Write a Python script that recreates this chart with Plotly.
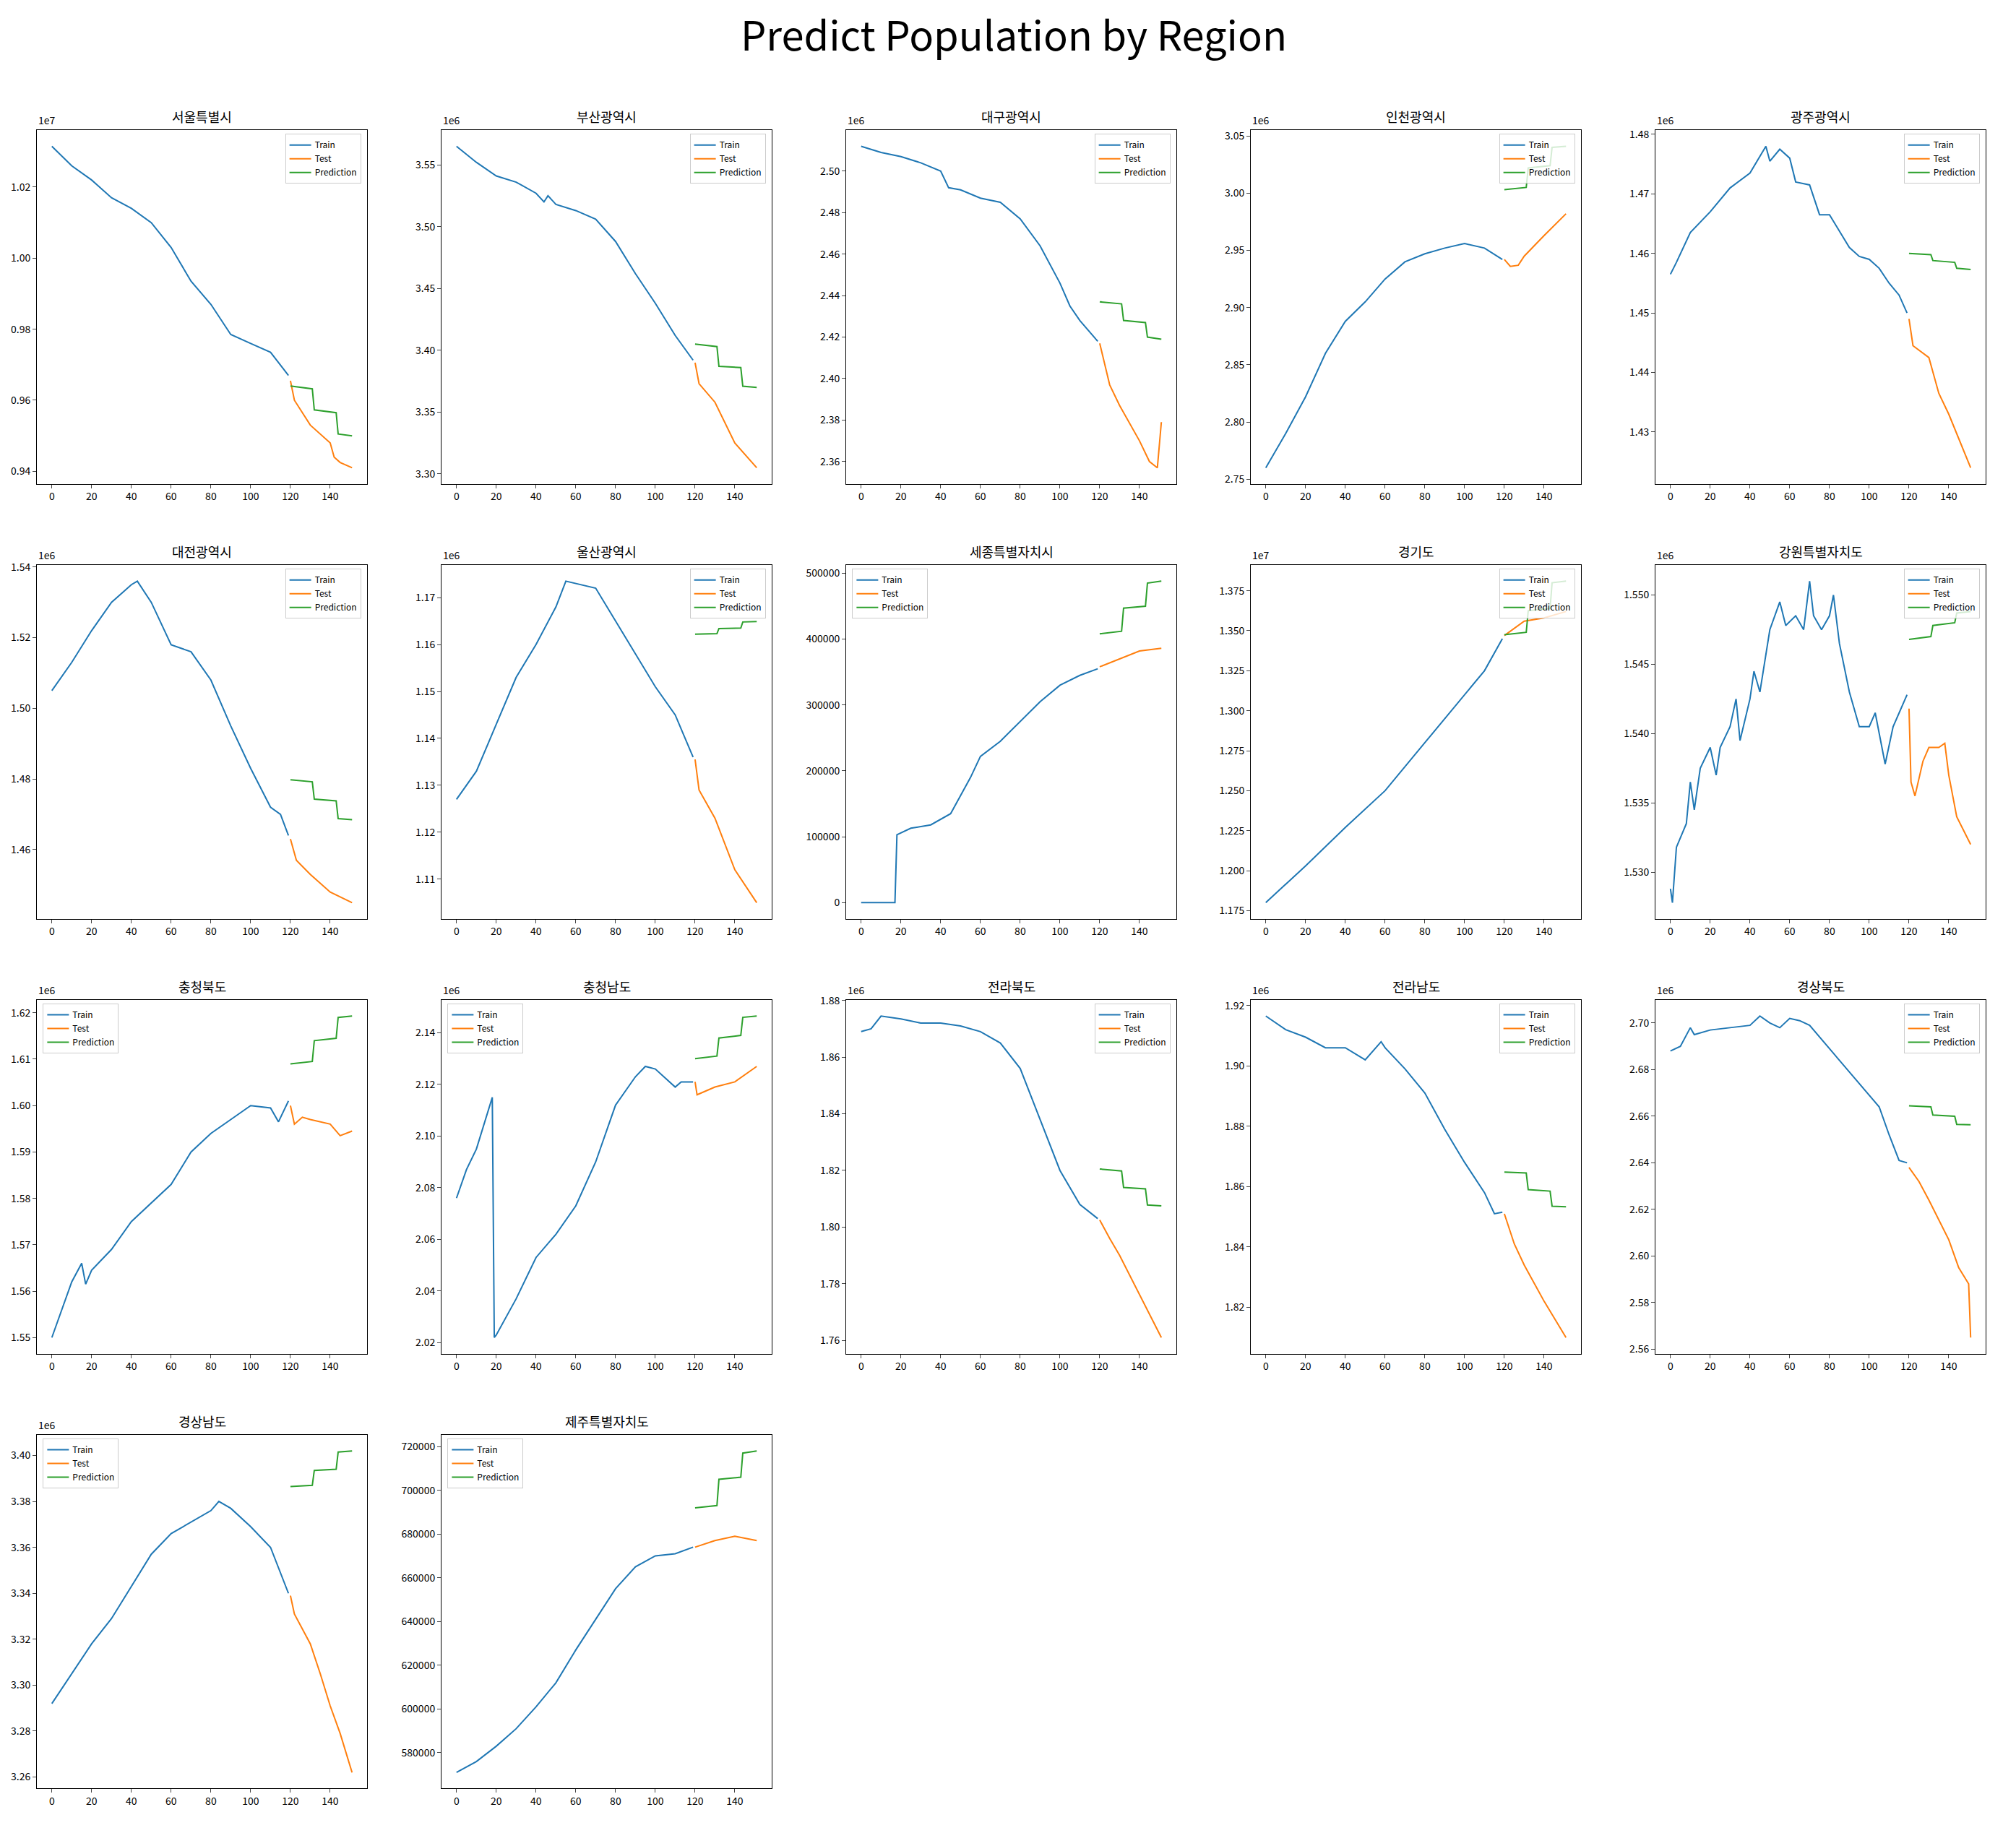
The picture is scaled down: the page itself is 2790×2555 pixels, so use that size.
import plotly.graph_objects as go

W, H = 2790, 2555

regions = ["서울특별시", "부산광역시", "대구광역시", "인천광역시", "광주광역시",
           "대전광역시", "울산광역시", "세종특별자치시", "경기도", "강원특별자치도",
           "충청북도", "충청남도", "전라북도", "전라남도", "경상북도",
           "경상남도", "제주특별자치도"]
scales = ["1e7", "1e6", "1e6", "1e6", "1e6", "1e6", "1e6", "", "1e7", "1e6",
          "1e6", "1e6", "1e6", "1e6", "1e6", "1e6", ""]
tick_fmt = [".2f", ".2f", ".2f", ".2f", ".2f", ".2f", ".2f", "d", ".3f", ".3f",
            ".2f", ".2f", ".2f", ".2f", ".2f", ".2f", "d"]
tick_step = [0.02, 0.05, 0.02, 0.05, 0.01, 0.02, 0.01, 100000, 0.025, 0.005,
             0.01, 0.02, 0.02, 0.02, 0.02, 0.02, 20000]
legend_left = [False, False, False, False, False, False, False, True, False, False,
               True, True, False, False, False, True, True]

train_x = [
    [0, 10, 20, 30, 40, 50, 60, 70, 80, 90, 100, 110, 119],
    [0, 10, 20, 30, 40, 44, 46, 50, 60, 70, 80, 90, 100, 110, 119],
    [0, 10, 20, 30, 40, 44, 50, 60, 70, 80, 90, 100, 105, 110, 119],
    [0, 10, 20, 30, 40, 50, 60, 70, 80, 90, 100, 110, 119],
    [0, 3, 10, 20, 30, 40, 48, 50, 55, 60, 63, 70, 75, 80, 90, 95, 100, 105, 110, 115, 119],
    [0, 10, 20, 30, 40, 43, 50, 60, 70, 80, 90, 100, 110, 115, 119],
    [0, 10, 20, 30, 40, 50, 55, 60, 70, 80, 90, 100, 110, 119],
    [0, 17, 18, 25, 35, 45, 55, 60, 70, 80, 90, 100, 110, 119],
    [0, 20, 40, 60, 80, 100, 110, 119],
    [0, 1, 3, 5, 8, 10, 12, 15, 20, 23, 25, 30, 33, 35, 40, 42, 45, 50, 55, 58, 63, 67,
     70, 72, 76, 80, 82, 85, 90, 95, 100, 103, 108, 112, 119],
    [0, 10, 15, 17, 20, 30, 40, 50, 60, 70, 80, 90, 100, 110, 114, 119],
    [0, 5, 10, 18, 19, 20, 30, 40, 50, 60, 70, 80, 90, 95, 100, 110, 113, 119],
    [0, 5, 10, 20, 30, 40, 50, 60, 70, 80, 90, 100, 110, 119],
    [0, 10, 20, 30, 40, 50, 58, 60, 70, 80, 90, 100, 110, 115, 119],
    [0, 5, 10, 12, 20, 30, 40, 45, 50, 55, 60, 65, 70, 80, 90, 100, 105, 110, 115, 119],
    [0, 10, 20, 30, 40, 50, 60, 70, 80, 84, 90, 100, 110, 119],
    [0, 10, 20, 30, 40, 50, 60, 70, 80, 90, 100, 110, 119],
]
train_y = [
    [1.0315, 1.026, 1.022, 1.017, 1.014, 1.010, 1.003, 0.9935, 0.987, 0.9785, 0.976, 0.9735, 0.967],
    [3.565, 3.552, 3.541, 3.536, 3.527, 3.520, 3.525, 3.518, 3.513, 3.506, 3.488, 3.462, 3.438, 3.412, 3.392],
    [2.512, 2.509, 2.507, 2.504, 2.500, 2.492, 2.491, 2.487, 2.485, 2.477, 2.464, 2.446, 2.435, 2.428, 2.418],
    [2.760, 2.790, 2.822, 2.860, 2.888, 2.905, 2.925, 2.940, 2.947, 2.952, 2.956, 2.952, 2.942],
    [1.4565, 1.4585, 1.4635, 1.467, 1.471, 1.4735, 1.478, 1.4755, 1.4775, 1.476, 1.472, 1.4715,
     1.4665, 1.4665, 1.461, 1.4595, 1.459, 1.4575, 1.455, 1.453, 1.450],
    [1.505, 1.513, 1.522, 1.530, 1.535, 1.536, 1.530, 1.518, 1.516, 1.508, 1.495, 1.483, 1.472, 1.470, 1.464],
    [1.127, 1.133, 1.143, 1.153, 1.160, 1.168, 1.1735, 1.173, 1.172, 1.165, 1.158, 1.151, 1.145, 1.136],
    [0, 0, 103000, 113000, 118000, 135000, 190000, 222000, 245000, 275000, 305000, 330000, 345000, 355000],
    [1.180, 1.203, 1.227, 1.250, 1.280, 1.310, 1.325, 1.345],
    [1.5288, 1.5278, 1.5318, 1.5325, 1.5335, 1.5365, 1.5345, 1.5375, 1.539, 1.537, 1.539, 1.5405,
     1.5425, 1.5395, 1.5425, 1.5445, 1.543, 1.5475, 1.5495, 1.5478, 1.5485, 1.5475, 1.551, 1.5485,
     1.5475, 1.5485, 1.550, 1.5465, 1.543, 1.5405, 1.5405, 1.5415, 1.5378, 1.5405, 1.5428],
    [1.550, 1.562, 1.566, 1.5615, 1.5645, 1.569, 1.575, 1.579, 1.583, 1.590, 1.594, 1.597, 1.600,
     1.5995, 1.5965, 1.601],
    [2.076, 2.087, 2.095, 2.115, 2.022, 2.023, 2.037, 2.053, 2.062, 2.073, 2.090, 2.112, 2.123,
     2.127, 2.126, 2.119, 2.121, 2.121],
    [1.869, 1.870, 1.8745, 1.8735, 1.872, 1.872, 1.871, 1.869, 1.865, 1.856, 1.838, 1.820, 1.808, 1.803],
    [1.9165, 1.912, 1.9095, 1.906, 1.906, 1.902, 1.908, 1.906, 1.899, 1.891, 1.879, 1.868, 1.858,
     1.851, 1.8515],
    [2.688, 2.690, 2.698, 2.695, 2.697, 2.698, 2.699, 2.703, 2.700, 2.698, 2.702, 2.701, 2.699,
     2.689, 2.679, 2.669, 2.664, 2.652, 2.641, 2.640],
    [3.292, 3.305, 3.318, 3.329, 3.343, 3.357, 3.366, 3.371, 3.376, 3.380, 3.377, 3.369, 3.360, 3.340],
    [571000, 576000, 583000, 591000, 601000, 612000, 627000, 641000, 655000, 665000, 670000, 671000, 674000],
]
test_x = [
    [120, 122, 130, 135, 140, 142, 145, 151],
    [120, 122, 130, 140, 151],
    [120, 125, 130, 140, 145, 149, 151],
    [120, 123, 127, 130, 140, 151],
    [120, 122, 130, 135, 140, 145, 151],
    [120, 123, 130, 140, 151],
    [120, 122, 130, 140, 151],
    [120, 130, 140, 151],
    [120, 130, 140, 151],
    [120, 121, 123, 127, 130, 135, 138, 140, 144, 151],
    [120, 122, 126, 130, 140, 145, 151],
    [120, 121, 130, 140, 151],
    [120, 125, 130, 140, 151],
    [120, 125, 130, 140, 151],
    [120, 125, 130, 140, 145, 150, 151],
    [120, 122, 130, 135, 140, 145, 151],
    [120, 130, 140, 151],
]
test_y = [
    [0.9655, 0.960, 0.953, 0.9505, 0.948, 0.944, 0.9425, 0.941],
    [3.390, 3.373, 3.358, 3.325, 3.305],
    [2.417, 2.397, 2.387, 2.370, 2.360, 2.357, 2.379],
    [2.942, 2.936, 2.937, 2.945, 2.963, 2.982],
    [1.449, 1.4445, 1.4425, 1.4365, 1.433, 1.429, 1.424],
    [1.463, 1.457, 1.453, 1.448, 1.445],
    [1.1355, 1.129, 1.123, 1.112, 1.105],
    [358000, 370000, 382000, 386000],
    [1.347, 1.356, 1.358, 1.362],
    [1.5418, 1.5365, 1.5355, 1.538, 1.539, 1.539, 1.5393, 1.537, 1.534, 1.532],
    [1.600, 1.596, 1.5975, 1.597, 1.596, 1.5935, 1.5945],
    [2.121, 2.116, 2.119, 2.121, 2.127],
    [1.8025, 1.796, 1.790, 1.776, 1.761],
    [1.851, 1.841, 1.834, 1.822, 1.810],
    [2.638, 2.632, 2.624, 2.607, 2.595, 2.588, 2.565],
    [3.339, 3.331, 3.318, 3.305, 3.291, 3.279, 3.262],
    [674000, 677000, 679000, 677000],
]
pred_x = [120, 131, 132, 143, 144, 151]
pred_y = [
    [0.9640, 0.9632, 0.9573, 0.9565, 0.9505, 0.9500],
    [3.405, 3.403, 3.387, 3.386, 3.371, 3.370],
    [2.437, 2.436, 2.428, 2.427, 2.420, 2.419],
    [3.003, 3.005, 3.022, 3.024, 3.040, 3.041],
    [1.460, 1.4598, 1.4588, 1.4585, 1.4575, 1.4573],
    [1.4798, 1.4792, 1.4743, 1.4738, 1.4688, 1.4685],
    [1.1622, 1.1623, 1.1634, 1.1635, 1.1648, 1.1649],
    [408000, 412000, 447000, 450000, 485000, 488000],
    [1.3475, 1.349, 1.3625, 1.364, 1.380, 1.381],
    [1.5468, 1.5470, 1.5478, 1.5480, 1.5487, 1.5488],
    [1.609, 1.6095, 1.6140, 1.6145, 1.6190, 1.6193],
    [2.130, 2.131, 2.138, 2.139, 2.146, 2.1465],
    [1.8205, 1.8198, 1.8140, 1.8135, 1.8078, 1.8075],
    [1.8648, 1.8645, 1.8590, 1.8585, 1.8535, 1.8533],
    [2.6645, 2.6640, 2.6605, 2.6600, 2.6565, 2.6563],
    [3.3865, 3.3870, 3.3935, 3.3940, 3.4015, 3.4020],
    [692000, 693000, 705000, 706000, 717000, 718000],
]

BLUE, ORANGE, GREEN = "#1f77b4", "#ff7f0e", "#2ca02c"
FONT = "Noto Sans CJK KR, Noto Sans, sans-serif"

fig = go.Figure()
annotations = []
layout = {}

for i, name in enumerate(regions):
    r, c = divmod(i, 5)
    left, top = 43 + 560 * c, 163 + 605 * r
    x0, x1 = left / W, (left + 457) / W
    y1, y0 = 1 - top / H, 1 - (top + 492) / H
    n = "" if i == 0 else str(i + 1)
    xa, ya = "x" + n, "y" + n
    lg = "legend" + n
    for xs, ys, label, col in [(train_x[i], train_y[i], "Train", BLUE),
                               (test_x[i], test_y[i], "Test", ORANGE),
                               (pred_x, pred_y[i], "Prediction", GREEN)]:
        fig.add_trace(go.Scatter(x=xs, y=ys, mode="lines", name=label,
                                 line=dict(color=col, width=2),
                                 xaxis=xa, yaxis=ya, legend=lg))
    allv = train_y[i] + test_y[i] + pred_y[i]
    lo, hi = min(allv), max(allv)
    pad = (hi - lo) * 0.05
    axis_common = dict(showline=True, mirror=True, linecolor="black", linewidth=1,
                       showgrid=False, zeroline=False, ticks="outside", ticklen=5,
                       tickfont=dict(size=14, color="black", family=FONT))
    layout["xaxis" + n] = dict(domain=[x0, x1], anchor=ya, range=[-7.55, 158.55],
                               tickvals=list(range(0, 160, 20)), **axis_common)
    layout["yaxis" + n] = dict(domain=[y0, y1], anchor=xa, range=[lo - pad, hi + pad],
                               tickformat=tick_fmt[i], dtick=tick_step[i], **axis_common)
    layout[lg] = dict(x=(x0 + 0.003) if legend_left[i] else (x1 - 0.003),
                      xanchor="left" if legend_left[i] else "right",
                      y=y1 - 0.002, yanchor="top", itemwidth=30, tracegroupgap=0,
                      bgcolor="rgba(255,255,255,0.8)", bordercolor="#cccccc", borderwidth=1,
                      font=dict(size=12, family=FONT, color="black"))
    annotations.append(dict(text=name, x=(x0 + x1) / 2, y=y1, xref="paper", yref="paper",
                            xanchor="center", yanchor="bottom", yshift=4, showarrow=False,
                            font=dict(size=18, family=FONT, color="black")))
    if scales[i]:
        annotations.append(dict(text=scales[i], x=x0, y=y1, xref="paper", yref="paper",
                                xanchor="left", yanchor="bottom", yshift=2, showarrow=False,
                                font=dict(size=14, family=FONT, color="black")))

fig.update_layout(
    width=W, height=H, margin=dict(l=0, r=0, t=0, b=0),
    plot_bgcolor="white", paper_bgcolor="white",
    title=dict(text="Predict Population by Region", x=0.5, xanchor="center",
               y=1 - 42 / H, yanchor="middle", font=dict(size=56, family=FONT, color="black")),
    annotations=annotations,
    **layout,
)

fig.write_html("out.html")
